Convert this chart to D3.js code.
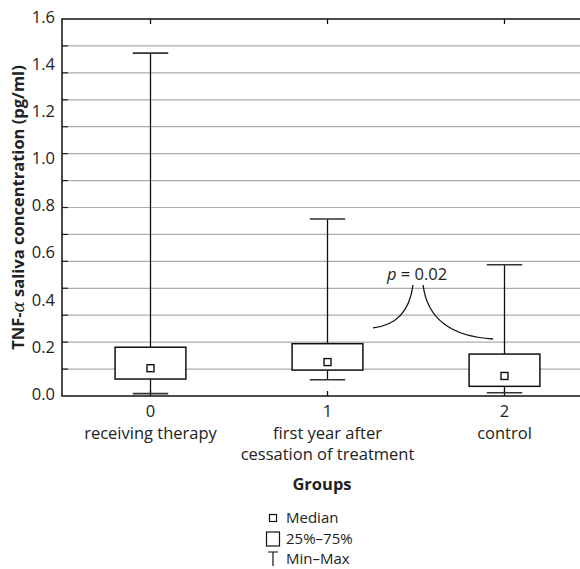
<!DOCTYPE html>
<html>
<head>
<meta charset="utf-8">
<script src="https://cdn.jsdelivr.net/npm/d3@7"></script>
<style>
  html, body { margin: 0; padding: 0; background: #fff; }
  svg { display: block; }
  text { font-family: "Open Sans", Lato, sans-serif; fill: #222; }
</style>
</head>
<body>
<svg id="chart" width="580" height="569"></svg>
<script>
// ---- data ----
const groupCodes = ["0", "1", "2"];
const groupNames = [["receiving therapy"], ["first year after", "cessation of treatment"], ["control"]];
const minVals    = [0.010, 0.069, 0.014];
const q1Vals     = [0.072, 0.110, 0.041];
const medianVals = [0.118, 0.144, 0.085];
const q3Vals     = [0.207, 0.222, 0.178];
const maxVals    = [1.455, 0.751, 0.557];
const yTickLabels = [0.0, 0.2, 0.4, 0.6, 0.8, 1.0, 1.2, 1.4, 1.6];
const pLabel = "0.02";
const legendItems = ["Median", "25%–75%", "Min–Max"];

(function () {
// ---- layout ----
const svg = d3.select("#chart");
const pLeft = 62, pTop = 19, pBottom = 396, groupW = 177;
const x = d3.scaleLinear().domain([-0.5, 2.5]).range([pLeft, pLeft + 3 * groupW]);
const y = d3.scaleLinear().domain([0, 1.6]).range([pBottom, pTop]);
const plotRight = 580;
const fs = "16.5px";

// gridlines (14 equal divisions of the frame)
const gridFr = d3.range(1, 14).map(k => k / 14);
const gy = f => pBottom - f * (pBottom - pTop);
svg.append("g").selectAll("line").data(gridFr).join("line")
  .attr("x1", pLeft).attr("x2", plotRight)
  .attr("y1", d => gy(d)).attr("y2", d => gy(d))
  .attr("stroke", "#ababab").attr("stroke-width", 1.2);
// left inner tick stubs
svg.append("g").selectAll("line").data(gridFr).join("line")
  .attr("x1", pLeft).attr("x2", pLeft + 6)
  .attr("y1", d => gy(d)).attr("y2", d => gy(d))
  .attr("stroke", "#222").attr("stroke-width", 1.2);

// frame: left, top, bottom
svg.append("path")
  .attr("d", `M${plotRight},${pTop}H${pLeft}V${pBottom}H${plotRight}`)
  .attr("fill", "none").attr("stroke", "#111").attr("stroke-width", 1.5);

// group ticks top & bottom
const idx = groupCodes.map((d, i) => i);
svg.append("g").selectAll("line").data(idx).join("line")
  .attr("x1", d => x(d)).attr("x2", d => x(d))
  .attr("y1", pTop).attr("y2", pTop + 5)
  .attr("stroke", "#111").attr("stroke-width", 1.3);
svg.append("g").selectAll("line").data(idx).join("line")
  .attr("x1", d => x(d)).attr("x2", d => x(d))
  .attr("y1", pBottom).attr("y2", pBottom - 5)
  .attr("stroke", "#111").attr("stroke-width", 1.3);

// y tick labels
svg.append("g").selectAll("text").data(yTickLabels).join("text")
  .attr("x", 55).attr("y", d => y(d) - 2)
  .attr("dy", "0.35em")
  .attr("text-anchor", "end")
  .style("font-size", fs)
  .text(d => d.toFixed(1));

// y title
const yt = svg.append("text")
  .attr("transform", `translate(24,${(pTop + pBottom) / 2}) rotate(-90)`)
  .attr("text-anchor", "middle")
  .style("font-size", fs).style("font-weight", "bold");
yt.append("tspan").text("TNF-");
yt.append("tspan").text("α").style("font-family", "'DejaVu Serif', serif").style("font-style", "italic").style("font-weight", "normal");
yt.append("tspan").text(" saliva concentration (pg/ml)");

// boxes
const boxW = 0.4, capW = 0.2;
const g = svg.append("g");
idx.forEach(i => {
  const cx = x(i);
  g.append("line").attr("x1", cx).attr("x2", cx).attr("y1", y(q3Vals[i])).attr("y2", y(maxVals[i]))
    .attr("stroke", "#111").attr("stroke-width", 1.3);
  g.append("line").attr("x1", cx).attr("x2", cx).attr("y1", y(q1Vals[i])).attr("y2", y(minVals[i]))
    .attr("stroke", "#111").attr("stroke-width", 1.3);
  [maxVals[i], minVals[i]].forEach(v => {
    g.append("line").attr("x1", x(i - capW / 2)).attr("x2", x(i + capW / 2))
      .attr("y1", y(v)).attr("y2", y(v))
      .attr("stroke", "#333").attr("stroke-width", 1.6);
  });
  g.append("rect")
    .attr("x", x(i - boxW / 2)).attr("width", x(i + boxW / 2) - x(i - boxW / 2))
    .attr("y", y(q3Vals[i])).attr("height", y(q1Vals[i]) - y(q3Vals[i]))
    .attr("fill", "#fff").attr("stroke", "#111").attr("stroke-width", 1.5);
  g.append("rect")
    .attr("x", cx - 3.5).attr("y", y(medianVals[i]) - 3.5)
    .attr("width", 7).attr("height", 7)
    .attr("fill", "#fff").attr("stroke", "#111").attr("stroke-width", 1.4);
});

// p annotation (positions in data units between groups 1 and 2)
const curveL = [[1.257, 0.289], [1.455, 0.305], [1.483, 0.471]];
const curveR = [[1.540, 0.471], [1.575, 0.258], [1.935, 0.242]];
const q = pts => `M${x(pts[0][0])},${y(pts[0][1])}Q${x(pts[1][0])},${y(pts[1][1])} ${x(pts[2][0])},${y(pts[2][1])}`;
[curveL, curveR].forEach(c => svg.append("path").attr("d", q(c))
  .attr("fill", "none").attr("stroke", "#111").attr("stroke-width", 1.3));
const pt = svg.append("text").attr("x", x(1.506)).attr("y", y(0.492))
  .attr("text-anchor", "middle").style("font-size", fs);
pt.append("tspan").text("p").style("font-style", "italic");
pt.append("tspan").text(" = " + pLabel);

// x labels
svg.append("g").selectAll("text").data(idx).join("text")
  .attr("x", d => x(d)).attr("y", 411).attr("dy", "0.35em")
  .attr("text-anchor", "middle").style("font-size", fs)
  .text(d => groupCodes[d]);
idx.forEach(i => {
  groupNames[i].forEach((line, k) => {
    svg.append("text").attr("x", x(i)).attr("y", 433 + k * 21).attr("dy", "0.35em")
      .attr("text-anchor", "middle").style("font-size", fs).text(line);
  });
});
svg.append("text").attr("x", 322).attr("y", 484).attr("dy", "0.35em")
  .attr("text-anchor", "middle").style("font-size", fs).style("font-weight", "bold")
  .text("Groups");

// legend
const lx = 273, ly = [518, 539, 559];
svg.append("rect").attr("x", lx - 3.5).attr("y", ly[0] - 3.5).attr("width", 7).attr("height", 7)
  .attr("fill", "#fff").attr("stroke", "#111").attr("stroke-width", 1.2);
svg.append("rect").attr("x", lx - 6.5).attr("y", ly[1] - 7).attr("width", 13).attr("height", 14)
  .attr("fill", "#fff").attr("stroke", "#111").attr("stroke-width", 1.2);
svg.append("path").attr("d", `M${lx - 5},${ly[2] - 7}H${lx + 5}M${lx},${ly[2] - 7}V${ly[2] + 7}`)
  .attr("fill", "none").attr("stroke", "#111").attr("stroke-width", 1.2);
svg.append("g").selectAll("text").data(legendItems).join("text")
  .attr("x", 286).attr("y", (d, i) => ly[i]).attr("dy", "0.35em")
  .style("font-size", "15px").text(d => d);
})();
</script>
</body>
</html>
